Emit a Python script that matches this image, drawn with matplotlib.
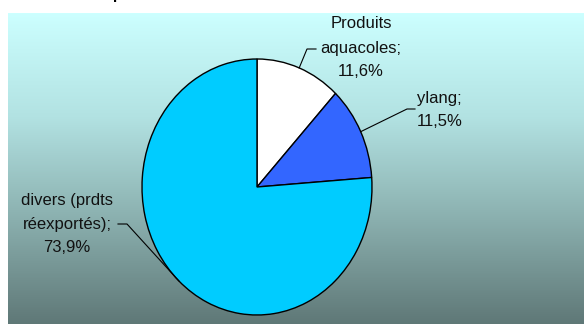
import numpy as np
import matplotlib
matplotlib.use("Agg")
import matplotlib.pyplot as plt
from matplotlib.colors import LinearSegmentedColormap

plt.rcParams['font.family'] = ['Liberation Sans', 'DejaVu Sans']

# data
labels = ["Produits\naquacoles;\n11,6%", "ylang;\n11,5%", "divers (prdts\nréexportés);\n73,9%"]
values = [11.6, 11.5, 73.9]
colors = ["#FFFFFF", "#3366FF", "#00CCFF"]
title = "Valeur des exportations en 2003"

W, H = 584, 324
fig = plt.figure(figsize=(W / 100, H / 100), dpi=100)

# gradient background of the plot area
bg = fig.add_axes([8 / W, 0, (W - 8) / W, (H - 13) / H])
cmap = LinearSegmentedColormap.from_list("bg", ["#CCFFFF", "#B2E2E2", "#8AAFAE", "#5F7877"])
grad = np.linspace(0, 1, 256).reshape(-1, 1)
bg.imshow(grad, aspect="auto", cmap=cmap, extent=[0, 1, 0, 1], origin="upper")
bg.set_axis_off()

# pie axes (stretched, like the original)
cx, cy, rx, ry = 257, 187, 115, 128
ax = fig.add_axes([(cx - rx) / W, (H - cy - ry) / H, 2 * rx / W, 2 * ry / H])
wedges, _ = ax.pie(values, colors=colors, startangle=90, counterclock=False,
                   wedgeprops=dict(edgecolor="black", linewidth=1.0))
ax.set_aspect("auto")
ax.set_xlim(-1, 1)
ax.set_ylim(-1, 1)

# label positions (pixels from top-left) and leader elbow points
text_pos = [(361, 48, "center"), (417, 110, "left"), (67, 224, "center")]
elbows = [[(307, 49), (316, 49)], [(407, 109), (415, 109)], [(127, 224), (118, 224)]]

def to_data(px, py):
    return (px - cx) / rx, (cy - py) / ry

for w, lab, (tx, ty, ha), elb in zip(wedges, labels, text_pos, elbows):
    mid = np.deg2rad((w.theta1 + w.theta2) / 2)
    x0, y0 = np.cos(mid), np.sin(mid)
    pts = [(x0, y0)] + [to_data(*p) for p in elb]
    xs, ys = zip(*pts)
    ax.plot(xs, ys, color="black", linewidth=0.8, clip_on=False)
    dx, dy = to_data(tx, ty)
    ax.text(dx, dy, lab, ha=ha, va="center", fontsize=12, linespacing=1.75,
            color="#111111", clip_on=False)

# title (cut off at the top in the original)
fig.text(15 / W, (H + 1) / H, title, fontsize=11, fontweight="bold",
         ha="left", va="baseline")

fig.savefig("out.png", dpi=100)
